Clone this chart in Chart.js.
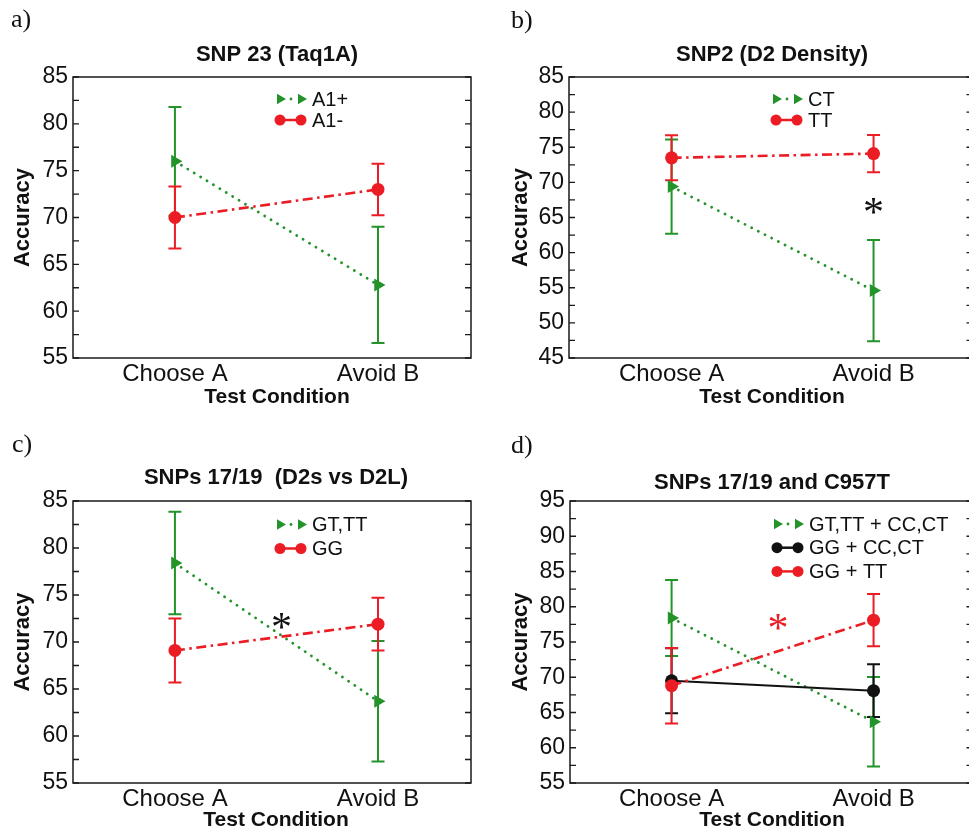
<!DOCTYPE html>
<html>
<head>
<meta charset="utf-8">
<script src="https://cdn.jsdelivr.net/npm/chart.js@4.4.1/dist/chart.umd.min.js"></script>
<style>
  body { margin: 0; background: #fff; }
  #page { position: relative; width: 969px; height: 830px; overflow: hidden; background: #fff; }
  canvas { position: absolute; }
  .tag { position: absolute; font: 26px "Liberation Serif", "Times New Roman", serif; line-height: 26px; color: #111; }
</style>
</head>
<body>
<div id="page">
  <canvas id="chartA" width="495" height="430" style="left:0px;top:0px"></canvas>
  <canvas id="chartB" width="495" height="430" style="left:485px;top:0px"></canvas>
  <canvas id="chartC" width="495" height="430" style="left:0px;top:415px"></canvas>
  <canvas id="chartD" width="495" height="430" style="left:485px;top:415px"></canvas>
  <div class="tag" style="left:11px;top:6px">a)</div>
  <div class="tag" style="left:511px;top:7px">b)</div>
  <div class="tag" style="left:12px;top:431px">c)</div>
  <div class="tag" style="left:511px;top:432px">d)</div>
</div>
<script>
// shared x categories
const conditions = ['Choose A', 'Avoid B'];
const xPos = [1, 2];

// a) SNP 23
const aTitle = 'SNP 23 (Taq1A)';
const aLabels = ['A1+', 'A1-'];
const aA1plus = [76.0, 62.8];
const aA1plusErr = [5.8, 6.2];
const aA1minus = [70.0, 73.0];
const aA1minusErr = [3.3, 2.75];

// b) SNP2
const bTitle = 'SNP2 (D2 Density)';
const bLabels = ['CT', 'TT'];
const bCT = [69.4, 54.6];
const bCTErr = [6.7, 7.2];
const bTT = [73.5, 74.1];
const bTTErr = [3.2, 2.65];
const bStarX = [2];
const bStarY = [66.6];

// c) SNPs 17/19
const cTitle = 'SNPs 17/19  (D2s vs D2L)';
const cLabels = ['GT,TT', 'GG'];
const cGTTT = [78.4, 63.7];
const cGTTTErr = [5.45, 6.4];
const cGG = [69.1, 71.9];
const cGGErr = [3.4, 2.8];
const cStarX = [1.525];
const cStarY = [72.2];

// d) SNPs 17/19 and C957T
const dTitle = 'SNPs 17/19 and C957T';
const dLabels = ['GT,TT + CC,CT', 'GG + CC,CT', 'GG + TT'];
const dGreen = [78.4, 63.7];
const dGreenErr = [5.4, 6.35];
const dBlack = [69.5, 68.1];
const dBlackErr = [4.6, 3.75];
const dRed = [68.8, 78.1];
const dRedErr = [5.35, 3.7];
const dStarX = [1.527];
const dStarY = [77.9];

const FONT = '"Liberation Sans", Arial, Helvetica, sans-serif';
const GREEN = '#23932a';
const RED = '#ec1c24';
const BLACK = '#111111';

const styles = {
    green: { color: GREEN, point: 'triangle', rot: 90, radius: 7.5, legendRadius: 6, width: 2.8, dash: [0.1, 7.4], cap: 'round', legendDot: true },
    red: { color: RED, point: 'circle', rot: 0, radius: 6.5, legendRadius: 5.5, width: 2.6, dash: [10, 4.5, 2.5, 4.5], cap: 'butt', legendDot: false },
    black: { color: BLACK, point: 'circle', rot: 0, radius: 6.5, legendRadius: 5.5, width: 2, dash: [], cap: 'butt', legendDot: false },
};

const W = 495;
const H = 430;

const panels = [
    {
        id: 'chartA', title: aTitle, yMin: 55, yMax: 85,
        box: { l: 73, t: 77, r: 471, b: 358 }, xMin: 0.498, xMax: 2.458,
        textX: 277, titleY: 55, xTitleY: 397, yTitlePad: 10, legendY: 22, legendGap: 21,
        series: [
            { label: aLabels[0], values: aA1plus, errors: aA1plusErr, style: 'green' },
            { label: aLabels[1], values: aA1minus, errors: aA1minusErr, style: 'red' },
        ],
        starX: [], starY: [], starColor: BLACK,
    },
    {
        id: 'chartB', title: bTitle, yMin: 45, yMax: 85,
        box: { l: 84, t: 77, r: 488, b: 358 }, xMin: 0.492, xMax: 2.49,
        textX: 287, titleY: 55, xTitleY: 397, yTitlePad: 23, legendY: 22, legendGap: 21,
        series: [
            { label: bLabels[0], values: bCT, errors: bCTErr, style: 'green' },
            { label: bLabels[1], values: bTT, errors: bTTErr, style: 'red' },
        ],
        starX: bStarX, starY: bStarY, starColor: BLACK,
    },
    {
        id: 'chartC', title: cTitle, yMin: 55, yMax: 85,
        box: { l: 73, t: 86, r: 471, b: 368 }, xMin: 0.498, xMax: 2.458,
        textX: 276, titleY: 63, xTitleY: 405, yTitlePad: 10, legendY: 23.5, legendGap: 24,
        series: [
            { label: cLabels[0], values: cGTTT, errors: cGTTTErr, style: 'green' },
            { label: cLabels[1], values: cGG, errors: cGGErr, style: 'red' },
        ],
        starX: cStarX, starY: cStarY, starColor: BLACK,
    },
    {
        id: 'chartD', title: dTitle, yMin: 55, yMax: 95,
        box: { l: 85, t: 86, r: 488, b: 368 }, xMin: 0.497, xMax: 2.49,
        textX: 287, titleY: 68, xTitleY: 405, yTitlePad: 23, legendY: 23, legendGap: 23.7,
        series: [
            { label: dLabels[0], values: dGreen, errors: dGreenErr, style: 'green' },
            { label: dLabels[1], values: dBlack, errors: dBlackErr, style: 'black' },
            { label: dLabels[2], values: dRed, errors: dRedErr, style: 'red' },
        ],
        starX: dStarX, starY: dStarY, starColor: RED,
    },
];

function drawMarker(ctx, kind, x, y, r, color) {
    ctx.fillStyle = color;
    ctx.beginPath();
    if (kind === 'triangle') {
        ctx.moveTo(x + r, y);
        ctx.lineTo(x - r / 2, y - r * 0.866);
        ctx.lineTo(x - r / 2, y + r * 0.866);
        ctx.closePath();
    } else {
        ctx.arc(x, y, r, 0, Math.PI * 2);
    }
    ctx.fill();
}

// error bars, frame with inward ticks, titles, legend and asterisks
const decor = {
    id: 'decor',
    beforeDatasetsDraw(chart) {
        const ctx = chart.ctx;
        const xs = chart.scales.x;
        const ys = chart.scales.y;
        chart.data.datasets.forEach(ds => {
            ctx.save();
            ctx.strokeStyle = ds.borderColor;
            ctx.lineWidth = 2;
            ds.data.forEach((p, j) => {
                const x = xs.getPixelForValue(p.x);
                const y1 = ys.getPixelForValue(p.y + ds.errors[j]);
                const y2 = ys.getPixelForValue(p.y - ds.errors[j]);
                ctx.beginPath();
                ctx.moveTo(x, y1);
                ctx.lineTo(x, y2);
                ctx.moveTo(x - 6.5, y1);
                ctx.lineTo(x + 6.5, y1);
                ctx.moveTo(x - 6.5, y2);
                ctx.lineTo(x + 6.5, y2);
                ctx.stroke();
            });
            ctx.restore();
        });
    },
    afterDraw(chart, args, opts) {
        const ctx = chart.ctx;
        const area = chart.chartArea;
        const ys = chart.scales.y;
        const xs = chart.scales.x;
        ctx.save();

        // frame
        ctx.strokeStyle = '#1a1a1a';
        ctx.lineWidth = 1.5;
        ctx.strokeRect(area.left, area.top, area.right - area.left, area.bottom - area.top);
        ctx.lineWidth = 1.3;
        ctx.beginPath();
        for (let v = ys.min; v <= ys.max + 0.01; v += 2.5) {
            const y = ys.getPixelForValue(v);
            ctx.moveTo(area.left, y);
            ctx.lineTo(area.left + 6, y);
            ctx.moveTo(area.right - 6, y);
            ctx.lineTo(area.right, y);
        }
        ctx.stroke();

        // titles
        ctx.fillStyle = '#111';
        ctx.textAlign = 'center';
        ctx.textBaseline = 'middle';
        ctx.font = 'bold 22px ' + FONT;
        ctx.fillText(opts.title, opts.textX, opts.titleY);
        ctx.font = 'bold 21px ' + FONT;
        ctx.fillText('Test Condition', opts.textX, opts.xTitleY);

        // legend
        chart.data.datasets.forEach((ds, i) => {
            const st = styles[ds.styleKey];
            const y = area.top + opts.legendY + i * opts.legendGap;
            const x1 = area.left + 207;
            const x2 = area.left + 228;
            ctx.strokeStyle = st.color;
            ctx.fillStyle = st.color;
            if (st.legendDot) {
                ctx.beginPath();
                ctx.arc((x1 + x2) / 2 + 0.5, y, 1.4, 0, Math.PI * 2);
                ctx.fill();
            } else {
                ctx.lineWidth = 2.5;
                ctx.beginPath();
                ctx.moveTo(x1, y);
                ctx.lineTo(x2, y);
                ctx.stroke();
            }
            drawMarker(ctx, st.point, x1, y, st.legendRadius, st.color);
            drawMarker(ctx, st.point, x2, y, st.legendRadius, st.color);
            ctx.fillStyle = '#111';
            ctx.textAlign = 'left';
            ctx.font = '20px ' + FONT;
            ctx.fillText(ds.label, area.left + 239, y + 1);
        });

        // significance asterisks
        ctx.font = '42px "Liberation Serif", serif';
        ctx.fillStyle = opts.starColor;
        ctx.textAlign = 'left';
        ctx.textBaseline = 'alphabetic';
        opts.starX.forEach((sx, k) => {
            const m = ctx.measureText('*');
            const cx = xs.getPixelForValue(sx);
            const cy = ys.getPixelForValue(opts.starY[k]);
            const w = m.actualBoundingBoxRight - m.actualBoundingBoxLeft;
            const h = m.actualBoundingBoxAscent - m.actualBoundingBoxDescent;
            ctx.fillText('*', cx - w / 2, cy + h / 2);
        });
        ctx.restore();
    },
};

Chart.defaults.font.family = FONT;
Chart.defaults.color = '#111';

panels.forEach(p => {
    const n = p.series.length;
    const datasets = p.series.map((s, i) => {
        const st = styles[s.style];
        return {
            label: s.label,
            styleKey: s.style,
            data: xPos.map((x, j) => ({ x: x, y: s.values[j] })),
            errors: s.errors,
            borderColor: st.color,
            backgroundColor: st.color,
            borderWidth: st.width,
            borderDash: st.dash,
            borderCapStyle: st.cap,
            pointStyle: st.point,
            pointRotation: st.rot,
            pointRadius: st.radius,
            pointHoverRadius: st.radius,
            pointBorderWidth: 0,
            pointBackgroundColor: st.color,
            tension: 0,
            fill: false,
            order: n - 1 - i,
        };
    });

    new Chart(document.getElementById(p.id), {
        type: 'line',
        data: { datasets: datasets },
        plugins: [decor],
        options: {
            responsive: false,
            maintainAspectRatio: false,
            devicePixelRatio: 1,
            animation: false,
            events: [],
            layout: { padding: { left: 0, top: p.box.t, right: W - p.box.r, bottom: 0 } },
            scales: {
                x: {
                    type: 'linear',
                    min: p.xMin,
                    max: p.xMax,
                    afterBuildTicks: scale => { scale.ticks = xPos.map(v => ({ value: v })); },
                    afterFit: scale => { scale.height = H - p.box.b; },
                    ticks: {
                        callback: v => conditions[xPos.indexOf(v)],
                        font: { size: 24 },
                        color: '#111',
                        padding: 2,
                        maxRotation: 0,
                        minRotation: 0,
                        autoSkip: false,
                    },
                    grid: { display: false, drawTicks: false },
                    border: { display: false },
                },
                y: {
                    min: p.yMin,
                    max: p.yMax,
                    afterFit: scale => { scale.width = p.box.l; },
                    ticks: { stepSize: 5, font: { size: 23 }, color: '#111', padding: 5 },
                    grid: { display: false, drawTicks: false },
                    border: { display: false },
                    title: {
                        display: true,
                        text: 'Accuracy',
                        font: { size: 22, weight: 'bold' },
                        color: '#111',
                        padding: { top: p.yTitlePad, bottom: 0 },
                    },
                },
            },
            plugins: {
                legend: { display: false },
                tooltip: { enabled: false },
                decor: {
                    title: p.title,
                    textX: p.textX,
                    titleY: p.titleY,
                    xTitleY: p.xTitleY,
                    legendY: p.legendY,
                    legendGap: p.legendGap,
                    starX: p.starX,
                    starY: p.starY,
                    starColor: p.starColor,
                },
            },
        },
    });
});
</script>
</body>
</html>
